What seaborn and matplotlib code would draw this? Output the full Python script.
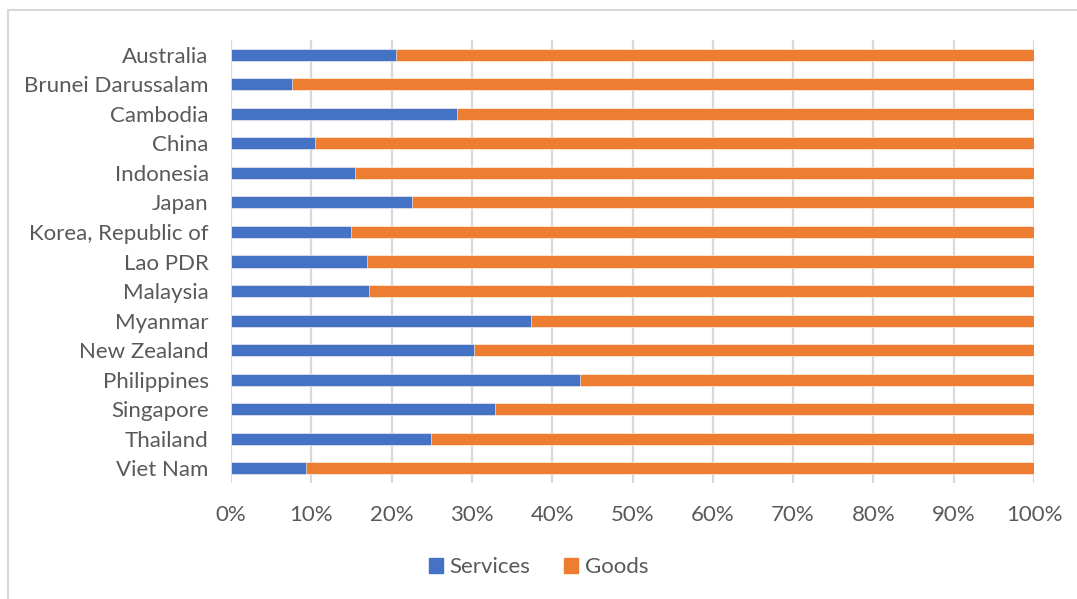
import matplotlib
matplotlib.use('Agg')
import matplotlib.pyplot as plt
import seaborn as sns
import pandas as pd
from matplotlib.lines import Line2D
from matplotlib.patches import Patch

countries = ['Australia', 'Brunei Darussalam', 'Cambodia', 'China', 'Indonesia',
             'Japan', 'Korea, Republic of', 'Lao PDR', 'Malaysia', 'Myanmar',
             'New Zealand', 'Philippines', 'Singapore', 'Thailand', 'Viet Nam']
services = [20.5, 7.6, 28.1, 10.5, 15.5, 22.6, 14.9, 16.9, 17.2, 37.3,
            30.3, 43.5, 32.9, 24.9, 9.4]
goods = [79.5, 92.4, 71.9, 89.5, 84.5, 77.4, 85.1, 83.1, 82.8, 62.7,
         69.7, 56.5, 67.1, 75.1, 90.6]

blue = '#4472C4'
orange = '#ED7D31'
txt = '#595959'
grid = '#D9D9D9'

df = pd.DataFrame({'Country': countries, 'Services': services, 'Goods': goods})
df['Total'] = df['Services'] + df['Goods']

sns.set_theme(style='white')
plt.rcParams['font.family'] = ['Lato', 'DejaVu Sans']

fig = plt.figure(figsize=(10.77, 5.99), dpi=100)
ax = fig.add_axes([231/1077, 1 - 483/599, 803/1077, 443/599])

# stacked: full bar in orange, services over it in blue
sns.barplot(data=df, y='Country', x='Total', color=orange, width=0.41,
            saturation=1, ax=ax, zorder=2)
sns.barplot(data=df, y='Country', x='Services', color=blue, width=0.41,
            saturation=1, ax=ax, zorder=3)
for p in ax.patches:
    p.set_edgecolor('white')
    p.set_linewidth(0.4)

ax.set_xlim(0, 100)
ax.set_xticks(range(0, 101, 10))
ax.set_xticklabels([f'{v}%' for v in range(0, 101, 10)])
ax.xaxis.grid(True, color=grid, linewidth=1.6, zorder=0)
ax.set_axisbelow(True)
ax.set_xlabel('')
ax.set_ylabel('')
for s in ax.spines.values():
    s.set_visible(False)
ax.tick_params(axis='x', length=0, pad=16, labelsize=16, labelcolor=txt)
ax.tick_params(axis='y', length=0, pad=16, labelsize=16, labelcolor=txt)

handles = [Patch(color=blue, label='Services'), Patch(color=orange, label='Goods')]
fig.legend(handles=handles, loc='center', bbox_to_anchor=(0.5, 1 - 567/599),
           ncol=2, frameon=False, fontsize=16, labelcolor=txt,
           handlelength=0.65, handleheight=0.65, handletextpad=0.3,
           columnspacing=1.5)

# outer chart frame (left and top edges visible)
fig.add_artist(Line2D([8/1077, 8/1077], [0, 1 - 10/599], transform=fig.transFigure,
                      color=grid, linewidth=1.5))
fig.add_artist(Line2D([8/1077, 1], [1 - 10/599, 1 - 10/599], transform=fig.transFigure,
                      color=grid, linewidth=1.5))

fig.savefig('out.png', dpi=100)
